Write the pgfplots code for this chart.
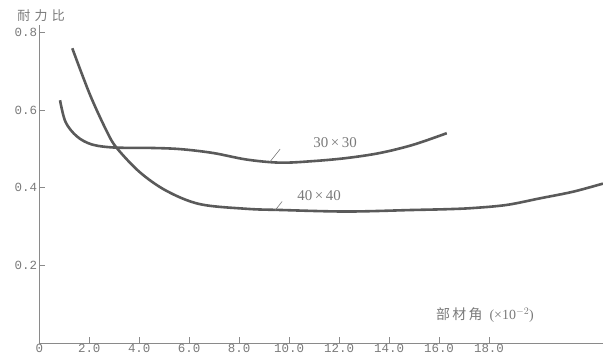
\documentclass[border=0pt]{standalone}
\usepackage{fontspec}
\usepackage{pgfplots}
\pgfplotsset{compat=1.18}
\usetikzlibrary{calc}
\setmainfont{Liberation Serif}
\newfontfamily\cjk{Noto Sans CJK SC}
\newfontfamily\mono{Liberation Mono}
\definecolor{curve}{HTML}{5A5A5A}
\definecolor{txt}{HTML}{7A7A7A}
\definecolor{axc}{HTML}{8A8A8A}
\begin{document}
\begin{tikzpicture}
\begin{axis}[
  scale only axis, width=564.6bp, height=318bp,
  xmin=0, xmax=22.6, ymin=0, ymax=0.82,
  axis lines=left,
  axis line style={-, draw=axc, line width=0.8bp},
  tick style={draw=axc, line width=0.8bp},
  tick align=inside, major tick length=6bp,
  xtick={0,2,4,6,8,10,12,14,16,18},
  xticklabels={0,2.0,4.0,6.0,8.0,10.0,12.0,14.0,16.0,18.0},
  ytick={0.2,0.4,0.6,0.8},
  yticklabels={0.2,0.4,0.6,0.8},
  tick label style={font=\mono\fontsize{12.5}{14}\selectfont, text=txt},
  xticklabel style={inner sep=0.5pt},
  yticklabel style={inner sep=2pt},
  clip=false,
]
% 30x30
\addplot[curve, line width=2.6bp, smooth, tension=0.55] coordinates {
(0.83,0.626) (1.05,0.570) (1.50,0.533) (2.10,0.512) (3.00,0.504) (4.43,0.503)
(5.63,0.500) (6.95,0.490) (8.30,0.473) (9.64,0.465) (10.96,0.469) (12.31,0.477)
(13.64,0.490) (14.96,0.511) (16.31,0.541)};
% 40x40
\addplot[curve, line width=2.6bp, smooth, tension=0.55] coordinates {
(1.32,0.760) (2.03,0.640) (2.70,0.546) (3.10,0.503) (4.03,0.440) (5.10,0.392)
(6.43,0.358) (8.30,0.346) (9.64,0.343) (12.31,0.339) (14.96,0.343)
(16.31,0.345) (17.36,0.348) (18.71,0.356) (20.04,0.373) (21.36,0.390) (22.56,0.411)};
% annotations
\draw[txt, line width=0.6bp] (axis cs:9.23,0.467) -- (axis cs:9.64,0.500);
\node[txt, font=\fontsize{15}{16}\selectfont] at (axis cs:11.84,0.518) {30\,×\,30};
\draw[txt, line width=0.6bp] (axis cs:9.44,0.342) -- (axis cs:9.72,0.365);
\node[txt, font=\fontsize{15}{16}\selectfont] at (axis cs:11.2,0.380) {40\,×\,40};
\node[txt, font=\fontsize{14}{16}\selectfont] at (axis cs:17.84,0.072) {{\cjk 部\,材\,角}\ \ (×10$^{-2}$)};
\node[txt, font=\cjk\fontsize{13}{15}\selectfont] at (axis cs:0.07,0.843) {耐\,\,力\,\,比};
\end{axis}
\pgfresetboundingbox
\path[use as bounding box] ($(current axis.south west)+(-39.3bp,-13bp)$) rectangle ($(current axis.north east)+(-0.9bp,25bp)$);
\end{tikzpicture}
\end{document}
